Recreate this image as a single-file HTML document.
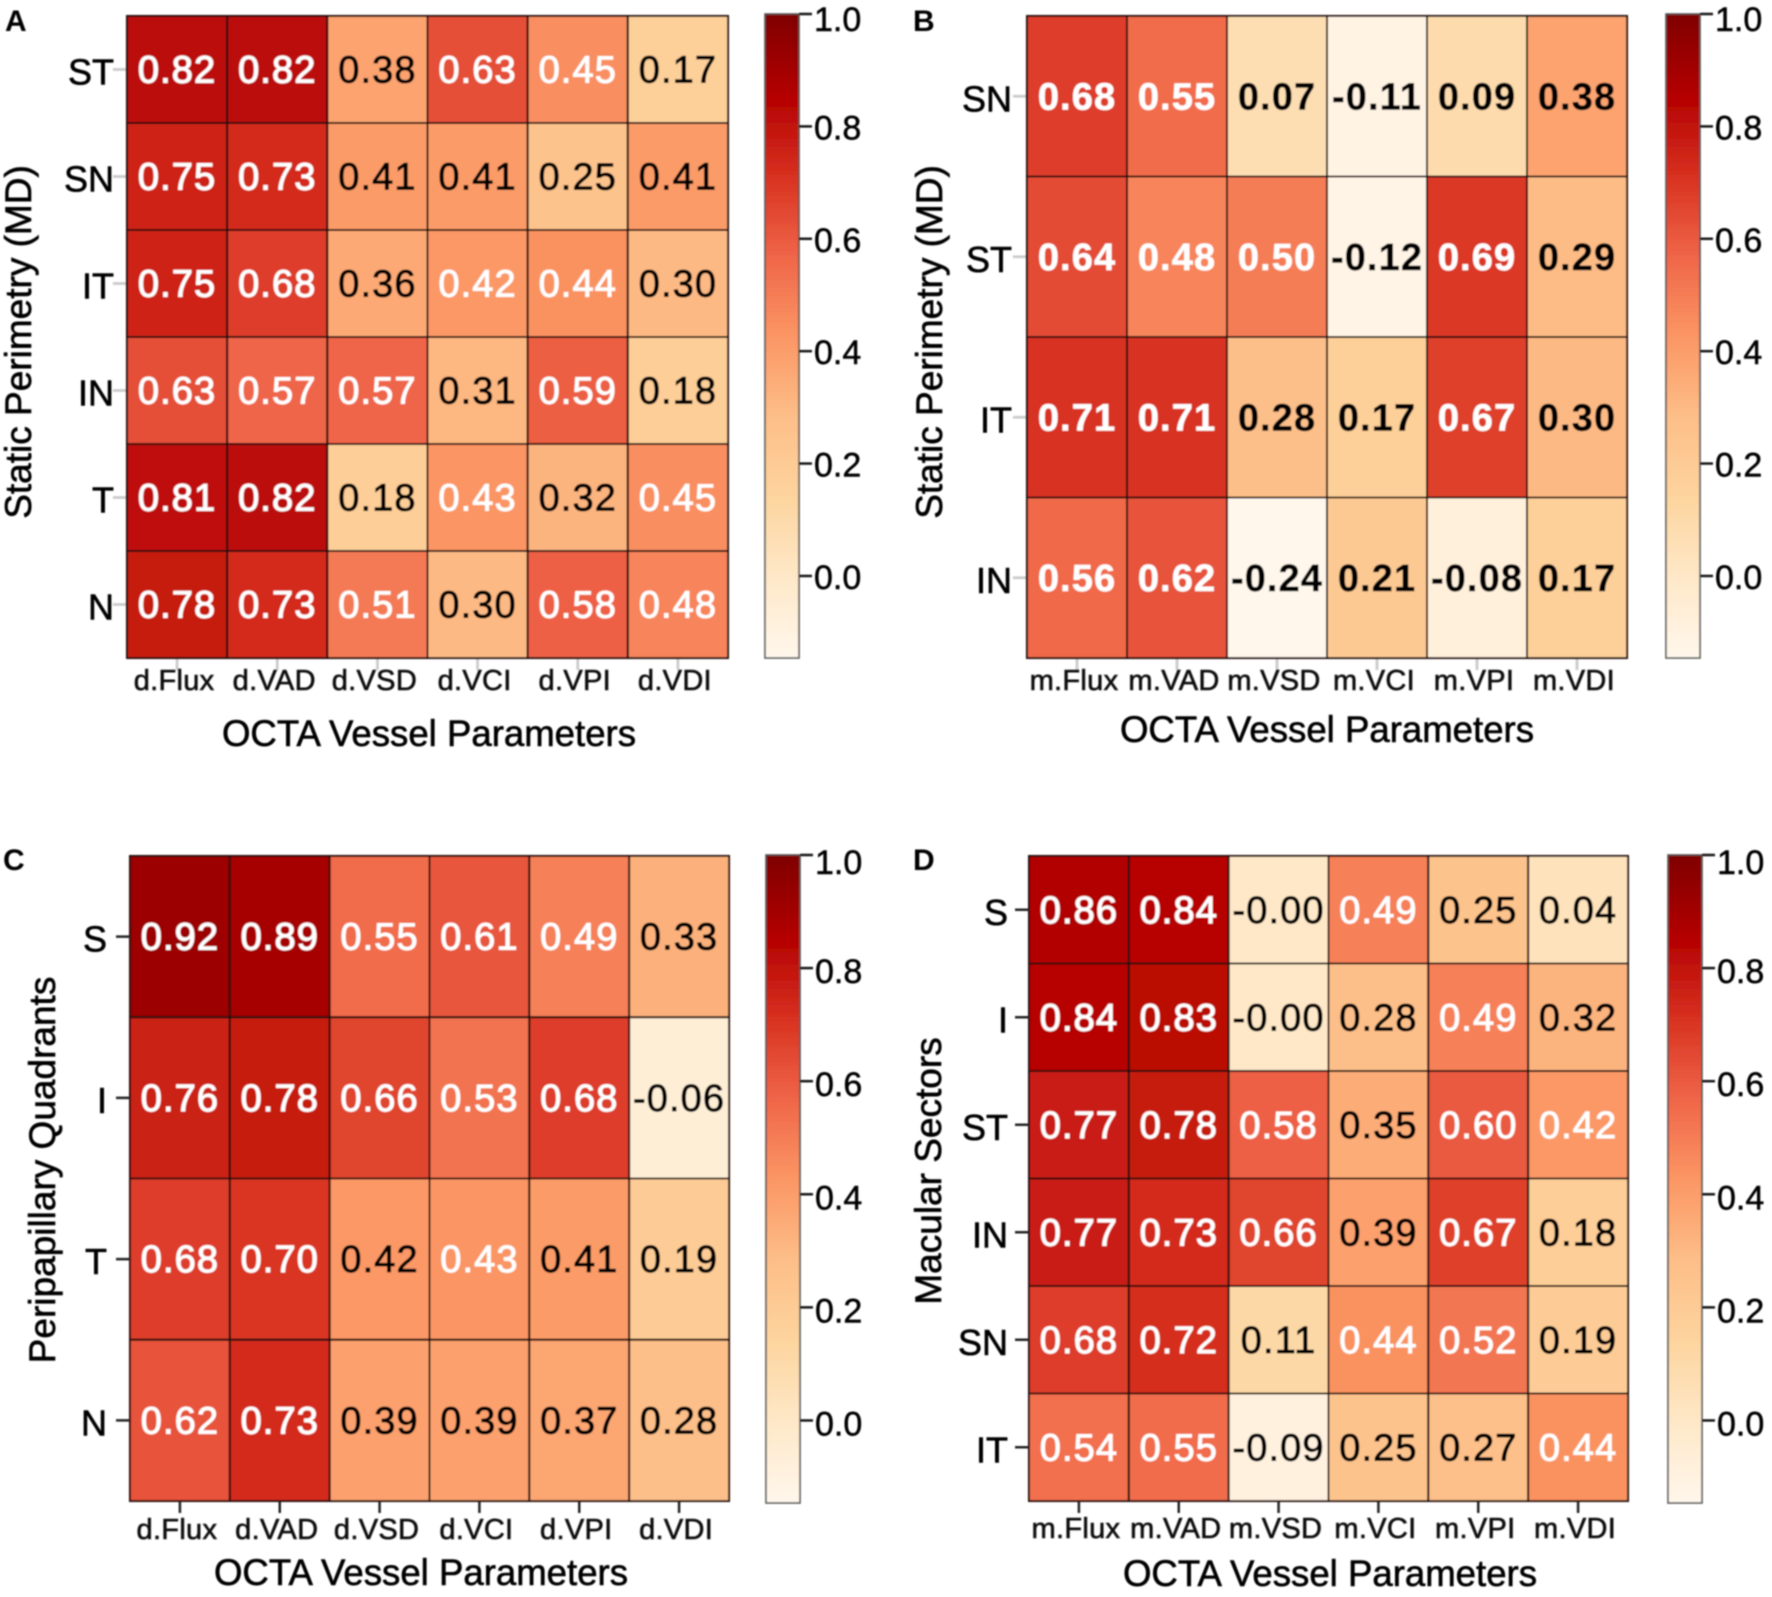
<!DOCTYPE html>
<html lang="en">
<head>
<meta charset="utf-8">
<title>OCTA correlation heatmaps</title>
<style>
html,body{margin:0;padding:0;background:#fff;width:1772px;height:1597px;overflow:hidden}
svg{display:block}
text{font-family:"Liberation Sans",sans-serif}
</style>
</head>
<body>
<svg id="fig" xmlns="http://www.w3.org/2000/svg" width="1772" height="1597" viewBox="0 0 1772 1597">
<defs><filter id="soft" x="0" y="0" width="100%" height="100%"><feGaussianBlur stdDeviation="0.75"/></filter></defs>
<rect width="1772" height="1597" fill="#fff"/>
<g id="root" filter="url(#soft)"></g>
</svg>
<script>
// Chart data
const colorbarTicks = [0.0, 0.2, 0.4, 0.6, 0.8, 1.0];
const colorMin = -0.146;
const colorMax = 1.0;

const rowsA = ['ST','SN','IT','IN','T','N'];
const colsA = ['d.Flux','d.VAD','d.VSD','d.VCI','d.VPI','d.VDI'];
const valuesA = [
  [0.82,0.82,0.38,0.63,0.45,0.17],
  [0.75,0.73,0.41,0.41,0.25,0.41],
  [0.75,0.68,0.36,0.42,0.44,0.30],
  [0.63,0.57,0.57,0.31,0.59,0.18],
  [0.81,0.82,0.18,0.43,0.32,0.45],
  [0.78,0.73,0.51,0.30,0.58,0.48]
];

const rowsB = ['SN','ST','IT','IN'];
const colsB = ['m.Flux','m.VAD','m.VSD','m.VCI','m.VPI','m.VDI'];
const valuesB = [
  [0.68,0.55,0.07,-0.11,0.09,0.38],
  [0.64,0.48,0.50,-0.12,0.69,0.29],
  [0.71,0.71,0.28,0.17,0.67,0.30],
  [0.56,0.62,-0.24,0.21,-0.08,0.17]
];

const rowsC = ['S','I','T','N'];
const colsC = ['d.Flux','d.VAD','d.VSD','d.VCI','d.VPI','d.VDI'];
const valuesC = [
  [0.92,0.89,0.55,0.61,0.49,0.33],
  [0.76,0.78,0.66,0.53,0.68,-0.06],
  [0.68,0.70,0.42,0.43,0.41,0.19],
  [0.62,0.73,0.39,0.39,0.37,0.28]
];

const rowsD = ['S','I','ST','IN','SN','IT'];
const colsD = ['m.Flux','m.VAD','m.VSD','m.VCI','m.VPI','m.VDI'];
const valuesD = [
  [0.86,0.84,-0.00,0.49,0.25,0.04],
  [0.84,0.83,-0.00,0.28,0.49,0.32],
  [0.77,0.78,0.58,0.35,0.60,0.42],
  [0.77,0.73,0.66,0.39,0.67,0.18],
  [0.68,0.72,0.11,0.44,0.52,0.19],
  [0.54,0.55,-0.09,0.25,0.27,0.44]
];

// Layout (separate from the data)
const panels = [
  {id:'a', letter:'A', lx:5, ly:31, rows:rowsA, cols:colsA, vals:valuesA, x0:127, x1:728, y0:16, y1:658, cb0:765, cb1:799, cbTop:14, cbBot:658, white:0.415, bold:false, yTitle:'Static Perimetry (MD)', ytx:31, yty:342, tickOp:0.25, xTickOp:0.25, yLabelX:114, xTickBase:690, xTitleX:429, xTitleBase:746, cbDy:13},
  {id:'b', letter:'B', lx:913, ly:31, rows:rowsB, cols:colsB, vals:valuesB, x0:1027, x1:1627, y0:16, y1:658, cb0:1666, cb1:1700, cbTop:14, cbBot:658, white:0.40, bold:true, yTitle:'Static Perimetry (MD)', ytx:942, yty:342, tickOp:0.25, xTickOp:0.25, yLabelX:1012, xTickBase:690, xTitleX:1327, xTitleBase:742, cbDy:13},
  {id:'c', letter:'C', lx:3, ly:870, rows:rowsC, cols:colsC, vals:valuesC, x0:130, x1:729, y0:856, y1:1501, cb0:766, cb1:800, cbTop:855, cbBot:1503, white:0.425, bold:false, yTitle:'Peripapillary Quadrants', ytx:55, yty:1170, tickOp:1, xTickOp:1, yLabelX:107, xTickBase:1539, xTitleX:421, xTitleBase:1585, cbDy:15},
  {id:'d', letter:'D', lx:913, ly:870, rows:rowsD, cols:colsD, vals:valuesD, x0:1029, x1:1628, y0:856, y1:1501, cb0:1668, cb1:1702, cbTop:855, cbBot:1503, white:0.415, bold:false, yTitle:'Macular Sectors', ytx:941, yty:1171, tickOp:1, xTickOp:1, yLabelX:1008, xTickBase:1538, xTitleX:1330, xTitleBase:1586, cbDy:15}
];

const orRd = [[255,247,236],[254,232,200],[253,212,158],[253,190,136],[251,150,100],[239,101,72],[215,48,31],[179,0,0],[127,0,0]];
function colorFor(v){
  let t = (v - colorMin) / (colorMax - colorMin);
  t = Math.max(0, Math.min(1, t)) * (orRd.length - 1);
  const i = Math.min(orRd.length - 2, Math.floor(t));
  const f = t - i;
  const c = orRd[i].map((a, k) => Math.round(a + (orRd[i + 1][k] - a) * f));
  return 'rgb(' + c.join(',') + ')';
}

const NS = 'http://www.w3.org/2000/svg';
const root = document.getElementById('root');
function mk(tag, attrs, parent, txt){
  const e = document.createElementNS(NS, tag);
  for (const k in attrs) e.setAttribute(k, attrs[k]);
  if (txt !== undefined) e.textContent = txt;
  parent.appendChild(e);
  return e;
}

panels.forEach(function(p){
  const g = mk('g', {}, root);
  
  

  const xBand = (p.x1 - p.x0) / p.cols.length;
  const yBand = (p.y1 - p.y0) / p.rows.length;
  const xAxis = function(i){ return p.x0 + i * xBand; };
  const yAxis = function(j){ return p.y0 + j * yBand; };
  const cbY = function(v){ return p.cbTop + (colorMax - v) / (colorMax - colorMin) * (p.cbBot - p.cbTop); };

  const letter = mk('text', {x:p.lx, y:p.ly, 'font-size':30, 'font-weight':'bold', fill:'#000'}, g, p.letter);
  
  

  p.vals.forEach(function(row, j){
    row.forEach(function(v, i){
      const cell = mk('rect', {x:xAxis(i), y:yAxis(j), width:xBand, height:yBand, fill:colorFor(v), stroke:'#22110b', 'stroke-width':2}, g);
      
      
    });
  });

  p.vals.forEach(function(row, j){
    row.forEach(function(v, i){
      const label = Object.is(v, -0) ? '-0.00' : v.toFixed(2);
      const white = v >= p.white;
      const color = white ? '#fff' : '#000';
      const t = mk('text', {x:xAxis(i) + xBand / 2, y:yAxis(j) + yBand / 2 + 13, 'text-anchor':'middle', 'font-size':38, 'letter-spacing':1.1, 'font-weight':p.bold ? 'bold' : 'normal', fill:color, stroke:color, 'stroke-width':p.bold ? 0.4 : 0.9}, g, label);
      
      
    });
  });

  p.rows.forEach(function(name, j){
    const cy = yAxis(j) + yBand / 2;
    const tick = mk('line', {x1:p.x0 - 14, x2:p.x0, y1:cy, y2:cy, stroke:'#222', 'stroke-width':2.5, opacity:p.tickOp}, g);
    
    
    const t = mk('text', {x:p.yLabelX, y:cy + 15, 'text-anchor':'end', 'font-size':36, fill:'#000', stroke:'#000', 'stroke-width':0.6}, g, name);
    
    
  });

  p.cols.forEach(function(name, i){
    const cx = xAxis(i) + xBand / 2;
    const tick = mk('line', {x1:cx, x2:cx, y1:p.y1, y2:p.y1 + 12, stroke:'#222', 'stroke-width':2.5, opacity:p.xTickOp}, g);
    
    
    const t = mk('text', {x:cx - 3, y:p.xTickBase, 'text-anchor':'middle', 'font-size':29, 'letter-spacing':0.3, fill:'#111', stroke:'#111', 'stroke-width':0.6}, g, name);
    
    
  });

  const xt = mk('text', {x:p.xTitleX, y:p.xTitleBase, 'text-anchor':'middle', 'font-size':36.6, fill:'#000', stroke:'#000', 'stroke-width':0.6}, g, 'OCTA Vessel Parameters');
  
  

  const yt = mk('text', {x:p.ytx, y:p.yty, 'text-anchor':'middle', 'font-size':37, fill:'#000', stroke:'#000', 'stroke-width':0.6, transform:'rotate(-90 ' + p.ytx + ' ' + p.yty + ')'}, g, p.yTitle);
  
  

  const steps = 160;
  const stepH = (p.cbBot - p.cbTop) / steps;
  for (let s = 0; s < steps; s++) {
    const band = mk('rect', {x:p.cb0, y:p.cbTop + s * stepH, width:p.cb1 - p.cb0, height:stepH + 0.6, fill:colorFor(colorMax - (s + 0.5) / steps * (colorMax - colorMin))}, g);
    
    
  }
  const frame = mk('rect', {x:p.cb0, y:p.cbTop, width:p.cb1 - p.cb0, height:p.cbBot - p.cbTop, fill:'none', stroke:'#555', 'stroke-width':1.6}, g);
  
  

  colorbarTicks.forEach(function(v){
    const y = cbY(v);
    const tick = mk('line', {x1:p.cb1, x2:p.cb1 + 13, y1:y, y2:y, stroke:'#111', 'stroke-width':2.4}, g);
    
    
    const t = mk('text', {x:p.cb1 + 15, y:y + p.cbDy + (v === 1 ? 4 : 0), 'font-size':34, fill:'#000', stroke:'#000', 'stroke-width':0.5}, g, v.toFixed(1));
    
    
  });
});
</script>
</body>
</html>
